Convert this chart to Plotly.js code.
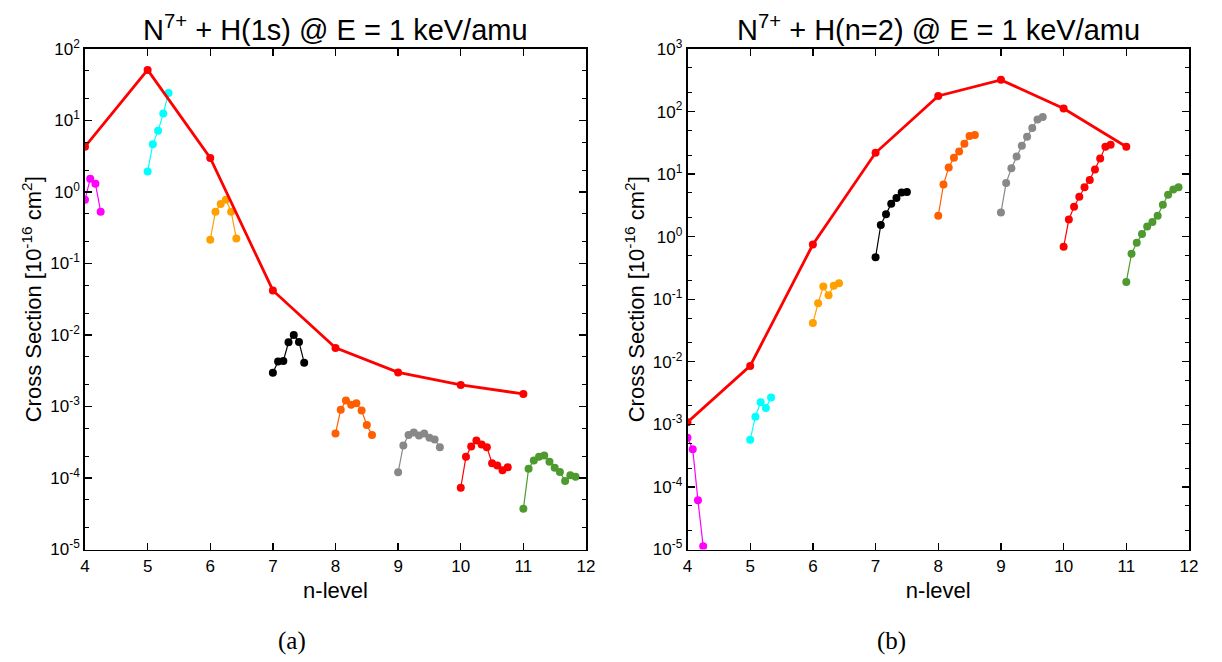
<!DOCTYPE html>
<html>
<head>
<meta charset="utf-8">
<script src="https://cdn.plot.ly/plotly-3.0.1.min.js"></script>
<style>html,body{margin:0;padding:0;background:#fff;}#chart{width:1222px;height:662px;}</style>
</head>
<body>
<div id="chart"></div>
<script>
// ---------- data ----------
const nLevels = [4, 5, 6, 7, 8, 9, 10, 11];

// Panel (a): N7+ + H(1s)
const totalA = [4.3, 51, 3.0, 0.042, 0.0066, 0.0030, 0.0020, 0.0015];
const subA_n4  = [0.78, 1.53, 1.30, 0.53];
const subA_n5  = [1.93, 4.67, 7.16, 12.5, 24.3];
const subA_n6  = [0.215, 0.53, 0.68, 0.78, 0.53, 0.224];
const subA_n7  = [0.00296, 0.00425, 0.00434, 0.0079, 0.0100, 0.0080, 0.0041];
const subA_n8  = [4.2e-4, 9.0e-4, 1.21e-3, 1.06e-3, 1.11e-3, 8.8e-4, 5.5e-4, 4.0e-4];
const subA_n9  = [1.2e-4, 2.85e-4, 4.0e-4, 4.33e-4, 3.94e-4, 4.2e-4, 3.66e-4, 3.46e-4, 2.7e-4];
const subA_n10 = [7.3e-5, 1.98e-4, 2.76e-4, 3.35e-4, 2.94e-4, 2.7e-4, 1.61e-4, 1.5e-4, 1.28e-4, 1.41e-4];
const subA_n11 = [3.7e-5, 1.35e-4, 1.76e-4, 1.98e-4, 2.07e-4, 1.69e-4, 1.39e-4, 1.21e-4, 9.1e-5, 1.09e-4, 1.04e-4];

// Panel (b): N7+ + H(n=2)
const totalB = [1.08e-3, 8.6e-3, 0.75, 21.9, 178, 321, 112, 27.4];
const subB_n4  = [6.1e-4, 4.0e-4, 6.1e-5, 1.13e-5];
const subB_n5  = [5.7e-4, 1.33e-3, 2.26e-3, 1.83e-3, 2.7e-3];
const subB_n6  = [0.0416, 0.0867, 0.160, 0.116, 0.164, 0.181];
const subB_n7  = [0.469, 1.54, 2.28, 3.37, 4.16, 5.10, 5.19];
const subB_n8  = [2.16, 6.8, 12.8, 18.3, 23.1, 30.6, 40.6, 42.2];
const subB_n9  = [2.43, 7.24, 12.4, 19.2, 28.5, 39.6, 54.5, 74.6, 81.6];
const subB_n10 = [0.69, 1.88, 3.0, 4.33, 6.17, 8.09, 11.9, 17.7, 27.4, 29.5];
const subB_n11 = [0.189, 0.535, 0.80, 1.10, 1.46, 1.71, 2.16, 3.23, 4.67, 5.66, 6.17];

const subColors = ['#ff00ff', '#00ffff', '#ffa000', '#000000', '#ff5f00', '#888888', '#ff0000', '#4e9a2e'];
const titleA = 'N<sup>7+</sup> + H(1s) @ E = 1 keV/amu';
const titleB = 'N<sup>7+</sup> + H(n=2) @ E = 1 keV/amu';
const xTicks = [4, 5, 6, 7, 8, 9, 10, 11, 12];
const yExpA = [-5, -4, -3, -2, -1, 0, 1, 2];
const yExpB = [-5, -4, -3, -2, -1, 0, 1, 2, 3];

// ---------- drawing ----------
const L_STEP = 1 / 12; // horizontal offset of successive l-sublevels within an n-shell
const FONT = 'Liberation Sans, Arial, sans-serif';

function subTraces(subs, xa, ya) {
  return subs.map((vals, i) => ({
    x: vals.map((_, l) => nLevels[i] + l * L_STEP),
    y: vals,
    xaxis: xa, yaxis: ya,
    mode: 'lines+markers', type: 'scatter',
    line: {color: subColors[i], width: 1.2},
    marker: {color: subColors[i], size: 8},
    showlegend: false, hoverinfo: 'x+y'
  }));
}
function totalTrace(vals, xa, ya) {
  return {
    x: nLevels, y: vals, xaxis: xa, yaxis: ya,
    mode: 'lines+markers', type: 'scatter',
    line: {color: '#ff0000', width: 2.8},
    marker: {color: '#ff0000', size: 8},
    showlegend: false
  };
}

const traces = [
  ...subTraces([subA_n4, subA_n5, subA_n6, subA_n7, subA_n8, subA_n9, subA_n10, subA_n11], 'x', 'y'),
  totalTrace(totalA, 'x', 'y'),
  ...subTraces([subB_n4, subB_n5, subB_n6, subB_n7, subB_n8, subB_n9, subB_n10, subB_n11], 'x2', 'y2'),
  totalTrace(totalB, 'x2', 'y2')
];

function minorVals(exps) {
  const out = [];
  exps.slice(0, -1).forEach(e => { [2, 5].forEach(m => out.push(m * Math.pow(10, e))); });
  return out;
}

function xAxis(domain, anchor) {
  return {
    domain: domain, anchor: anchor, range: [4, 12],
    tickvals: xTicks, ticktext: xTicks.map(String),
    ticks: 'inside', ticklen: 7, tickwidth: 1.3, tickcolor: '#000',
    showline: true, linecolor: '#000', linewidth: 1.8, mirror: 'ticks',
    showgrid: false, zeroline: false,
    tickfont: {family: FONT, size: 17, color: '#000'},
    title: {text: 'n-level', font: {family: FONT, size: 22, color: '#000'}, standoff: 8}
  };
}
function yAxis(domain, anchor, exps) {
  return {
    domain: domain, anchor: anchor, type: 'log',
    range: [exps[0], exps[exps.length - 1]],
    tickvals: exps.map(e => Math.pow(10, e)),
    ticktext: exps.map(e => '10<sup>' + e + '</sup>'),
    ticks: 'inside', ticklen: 7, tickwidth: 1.3, tickcolor: '#000',
    minor: {tickmode: 'array', tickvals: minorVals(exps), ticks: 'inside', ticklen: 4, tickwidth: 1, tickcolor: '#000', showgrid: false},
    showline: true, linecolor: '#000', linewidth: 1.8, mirror: 'ticks',
    showgrid: false, zeroline: false,
    tickfont: {family: FONT, size: 17, color: '#000'},
    title: {text: 'Cross Section [10<sup>-16</sup> cm<sup>2</sup>]', font: {family: FONT, size: 22, color: '#000'}, standoff: 2}
  };
}

const yDom = [112.5 / 662, 613 / 662];
const layout = {
  width: 1222, height: 662,
  margin: {l: 0, r: 0, t: 0, b: 0},
  paper_bgcolor: '#fff', plot_bgcolor: '#fff',
  xaxis: xAxis([85 / 1222, 586 / 1222], 'y'),
  yaxis: yAxis(yDom, 'x', yExpA),
  xaxis2: xAxis([687.5 / 1222, 1189 / 1222], 'y2'),
  yaxis2: yAxis(yDom, 'x2', yExpB),
  annotations: [
    {text: titleA, xref: 'paper', yref: 'paper', x: 335 / 1222, y: 1 - 28 / 662, xanchor: 'center', yanchor: 'middle', showarrow: false, font: {family: FONT, size: 29, color: '#000'}},
    {text: titleB, xref: 'paper', yref: 'paper', x: 938 / 1222, y: 1 - 28 / 662, xanchor: 'center', yanchor: 'middle', showarrow: false, font: {family: FONT, size: 29, color: '#000'}},
    {text: '(a)', xref: 'paper', yref: 'paper', x: 292 / 1222, y: 1 - 641 / 662, xanchor: 'center', yanchor: 'middle', showarrow: false, font: {family: 'Liberation Serif, serif', size: 25, color: '#000'}},
    {text: '(b)', xref: 'paper', yref: 'paper', x: 891 / 1222, y: 1 - 641 / 662, xanchor: 'center', yanchor: 'middle', showarrow: false, font: {family: 'Liberation Serif, serif', size: 25, color: '#000'}}
  ]
};

Plotly.newPlot('chart', traces, layout, {staticPlot: true, displayModeBar: false});
</script>
</body>
</html>
